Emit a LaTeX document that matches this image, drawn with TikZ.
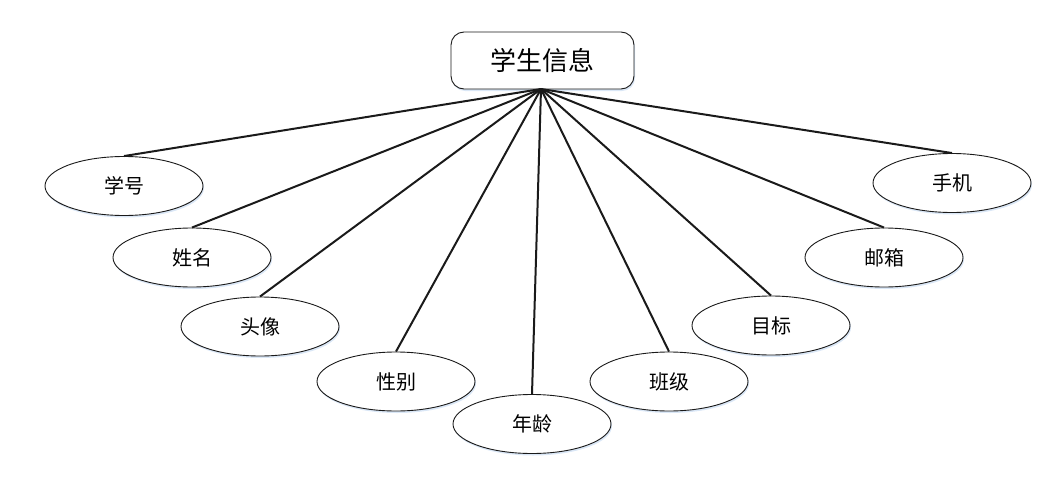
\documentclass[tikz,border=0pt]{standalone}
\usepackage{fontspec}
\setmainfont{Noto Sans CJK SC}
\usetikzlibrary{shapes.geometric,shadows}
\definecolor{Ink}{HTML}{1A1A1A}
\definecolor{Glow}{HTML}{D6E4F5}

\begin{document}
\begin{tikzpicture}[x=1pt,y=-1pt,
    attr/.style={ellipse,draw=Ink,line width=0.9pt,fill=white,
      minimum width=158pt,minimum height=59pt,inner sep=0pt,font=\fontsize{20}{22}\selectfont,
      drop shadow={shadow xshift=1pt,shadow yshift=-2pt,fill=Glow,opacity=0.9}},
    entity/.style={rectangle,rounded corners=13pt,draw=Ink,line width=0.9pt,fill=white,
      minimum width=183pt,minimum height=57pt,font=\fontsize{26}{28}\selectfont,
      drop shadow={shadow xshift=1pt,shadow yshift=-2pt,fill=Glow,opacity=0.9}},
    link/.style={line width=2pt,Ink}]
    \useasboundingbox (0,0) rectangle (1057,479);
    \node[entity] (info) at (542.5,60.5) {学生信息};
    \coordinate (hub) at (541,89);
    \node[attr] (sid) at (124,186) {学号};
    \node[attr] (name) at (192,257.5) {姓名};
    \node[attr] (photo) at (260,326.5) {头像};
    \node[attr] (gender) at (396,381.5) {性别};
    \node[attr] (age) at (532,424) {年龄};
    \node[attr] (class) at (669,381.5) {班级};
    \node[attr] (goal) at (771,325.5) {目标};
    \node[attr] (mail) at (884,257.5) {邮箱};
    \node[attr] (phone) at (952,183) {手机};
    \foreach \n in {sid,name,photo,gender,age,class,goal,mail,phone}
      \draw[link] (hub) -- (\n.north);
  \end{tikzpicture}
\end{document}
